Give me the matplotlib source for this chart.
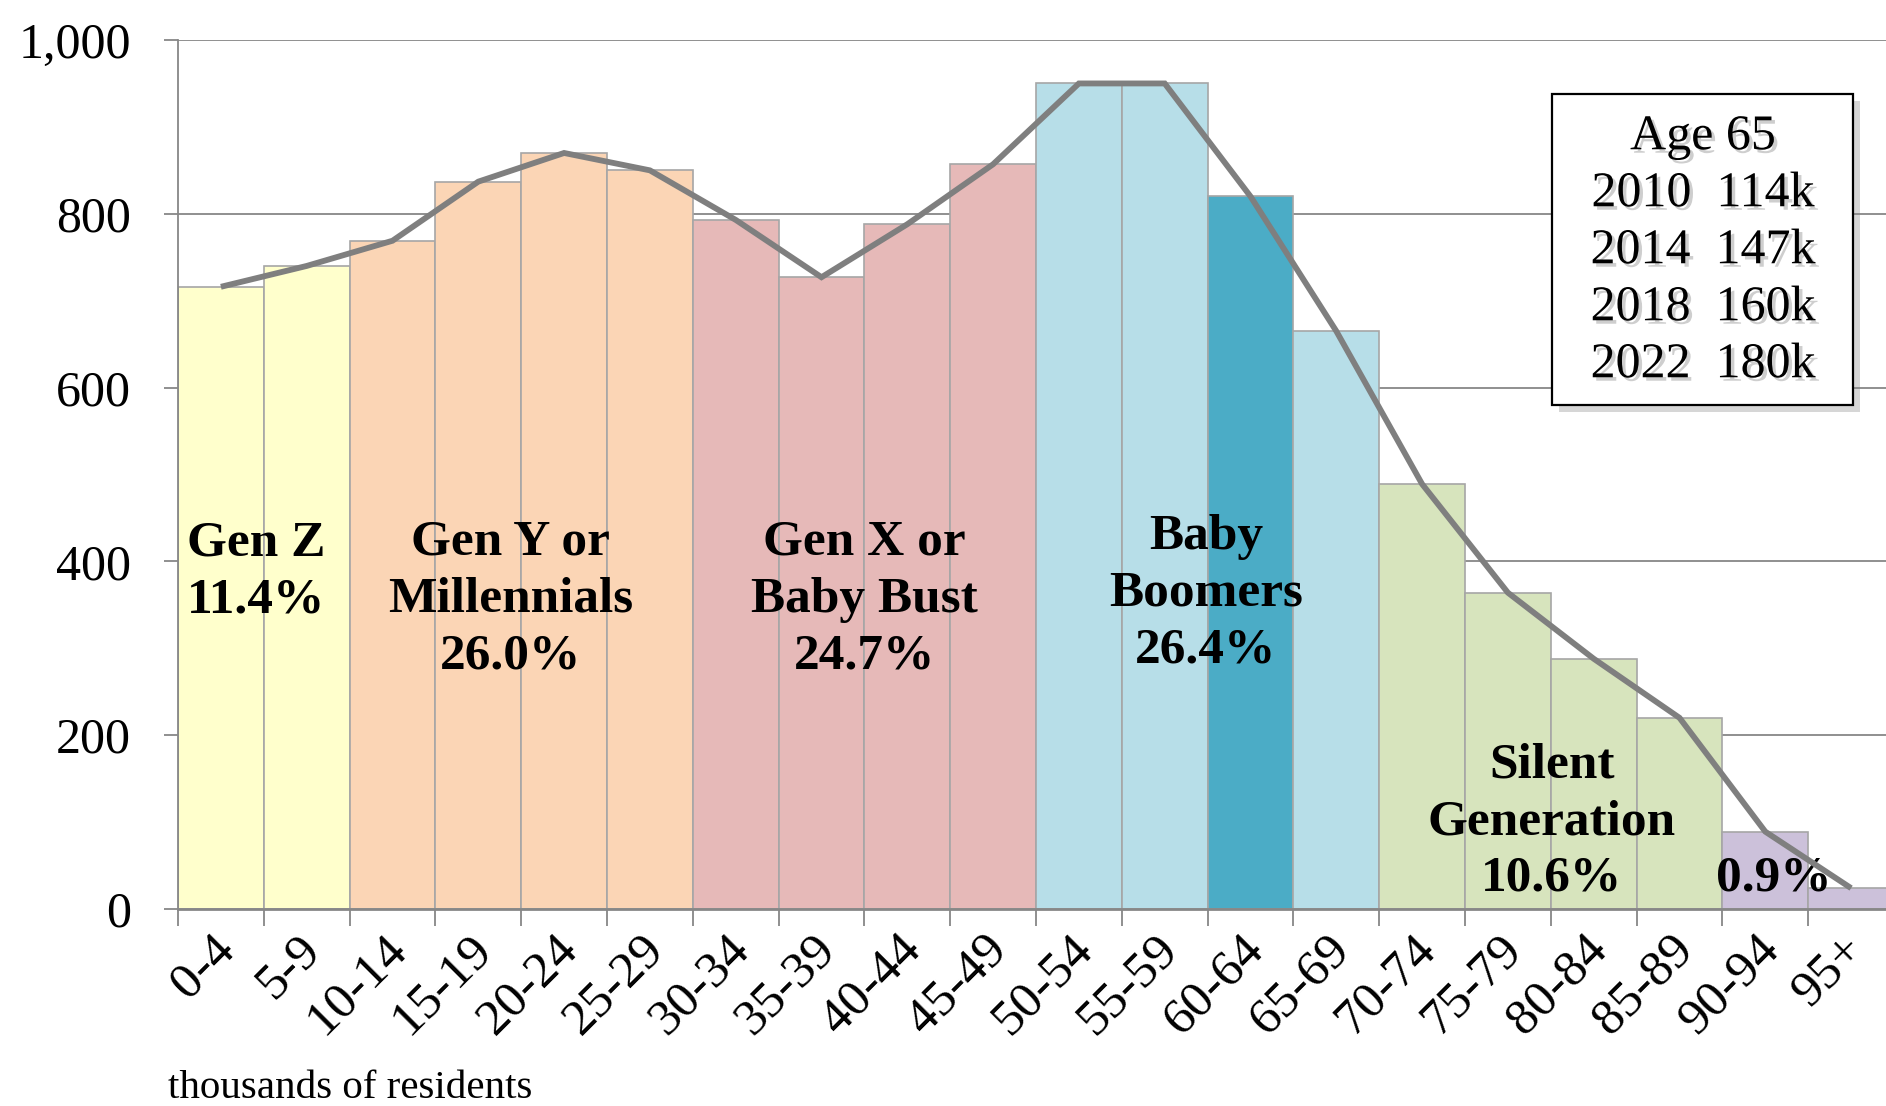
import numpy as np
import matplotlib
matplotlib.use("Agg")
import matplotlib.pyplot as plt
import matplotlib.patheffects as pe
from matplotlib.patches import Rectangle
from matplotlib.transforms import ScaledTranslation

# ---- data ----
age_groups = ["0-4", "5-9", "10-14", "15-19", "20-24", "25-29", "30-34", "35-39",
              "40-44", "45-49", "50-54", "55-59", "60-64", "65-69", "70-74",
              "75-79", "80-84", "85-89", "90-94", "95+"]
residents = [716, 740, 769, 837, 870, 850, 793, 727, 788, 857,
             950, 950, 820, 665, 489, 364, 288, 220, 89, 24]
bar_colors = ["#FFFFCC", "#FFFFCC",
              "#FBD5B5", "#FBD5B5", "#FBD5B5", "#FBD5B5",
              "#E6B9B8", "#E6B9B8", "#E6B9B8", "#E6B9B8",
              "#B7DEE8", "#B7DEE8", "#4BACC6", "#B7DEE8",
              "#D7E4BD", "#D7E4BD", "#D7E4BD", "#D7E4BD",
              "#CCC1DA", "#CCC1DA"]
y_ticks = [0, 200, 400, 600, 800, 1000]
y_tick_labels = ["0", "200", "400", "600", "800", "1,000"]

generation_labels = ["Gen Z\n11.4%", "Gen Y or\nMillennials\n26.0%",
                     "Gen X or\nBaby Bust\n24.7%", "Baby\nBoomers\n26.4%",
                     "Silent\nGeneration\n10.6%", "0.9%"]
generation_label_x = [0.41, 3.38, 7.5, 11.48, 15.51, 18.1]
generation_label_y = [388, 356, 356, 363, 100, 35]

box_lines = ["Age 65", "2010  114k", "2014  147k", "2018  160k", "2022  180k"]
axis_note = "thousands of residents"

# ---- figure ----
plt.rcParams["font.family"] = ["Liberation Serif", "DejaVu Serif"]
W, H = 1886, 1106
fig = plt.figure(figsize=(W / 100, H / 100), dpi=100)
ax = fig.add_axes([178 / W, 197 / H, 1716 / W, 869 / H])

x = np.arange(len(age_groups))
grid_c = "#878787"
ax.set_axisbelow(True)
ax.yaxis.grid(True, color=grid_c, linewidth=1.3)
ax.bar(x, residents, width=1.0, color=bar_colors, edgecolor="#A6A6A6",
       linewidth=1.2, zorder=2)
ax.plot(x, residents, color="#7F7F7F", linewidth=4.2, zorder=4,
        solid_capstyle="butt", solid_joinstyle="miter")

ax.set_xlim(-0.5, len(age_groups) - 0.5)
ax.set_ylim(0, 1000)
for s in ["top", "right"]:
    ax.spines[s].set_visible(False)
ax.spines["left"].set_color(grid_c)
ax.spines["left"].set_linewidth(1.3)
ax.spines["bottom"].set_color(grid_c)
ax.spines["bottom"].set_linewidth(2.0)
ax.spines["bottom"].set_zorder(5)

ax.set_yticks(y_ticks, y_tick_labels, fontsize=36)
ax.tick_params(axis="y", length=10, width=1.3, color=grid_c, pad=24)

ax.set_xticks(x, age_groups, fontsize=37, rotation=45, ha="right", va="top",
              rotation_mode="anchor")
ax.set_xticks(np.arange(len(age_groups) + 1) - 0.5, minor=True)
ax.tick_params(axis="x", which="major", length=0, pad=12)
ax.tick_params(axis="x", which="minor", length=12, width=1.3, color=grid_c)
off = ScaledTranslation(-10 / 100, 0, fig.dpi_scale_trans)
for lab in ax.get_xticklabels():
    lab.set_transform(lab.get_transform() + off)

for txt, gx, gy in zip(generation_labels, generation_label_x, generation_label_y):
    ax.text(gx, gy, txt, ha="center", va="center", multialignment="center",
            fontsize=37, fontweight="bold", linespacing=1.31, zorder=3)

fig.text(168 / W, 1 - 1089 / H, axis_note, fontsize=29.5, ha="left", va="center")

# boxed note
shadow = [pe.SimplePatchShadow(offset=(5, -5), shadow_rgbFace="0.55", alpha=0.35),
          pe.Normal()]
box = Rectangle((1552 / W, 1 - 405 / H), 301 / W, 311 / H, transform=fig.transFigure,
                facecolor="white", edgecolor="black", linewidth=1.6, zorder=10,
                path_effects=shadow)
fig.add_artist(box)
tshadow = [pe.SimplePatchShadow(offset=(2.5, -2.5), shadow_rgbFace="0.45", alpha=0.35),
           pe.Normal()]
row_y = [137, 194, 251, 308, 365]
for line, yy in zip(box_lines, row_y):
    fig.text(1703 / W, 1 - yy / H, line, fontsize=36, ha="center", va="center",
             zorder=11, path_effects=tshadow)

fig.savefig("out.png", dpi=100)
